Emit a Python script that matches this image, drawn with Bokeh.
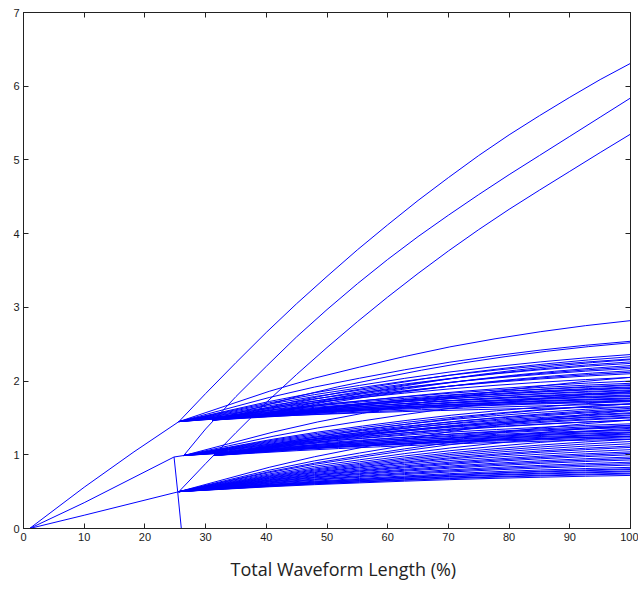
from bokeh.plotting import figure
from bokeh.models import Range1d, LinearAxis, FixedTicker, Title, ColumnDataSource
from bokeh.embed import file_html
from bokeh.resources import INLINE

# ---------------- data ----------------
x_ticks = [0, 10, 20, 30, 40, 50, 60, 70, 80, 90, 100]
y_ticks = [0, 1, 2, 3, 4, 5, 6, 7]

# three initial rising lines from the origin to the three levels
rise_upper_x = [1, 10, 18.2, 25.6]
rise_upper_y = [0, 0.56, 1.04, 1.45]
rise_middle_x = [1, 10, 24.8, 26.4]
rise_middle_y = [0, 0.35, 0.97, 0.99]
rise_lower_x = [1, 10, 25.6]
rise_lower_y = [0, 0.18, 0.50]

# near-vertical drop from the middle level down to zero
drop_x = [24.8, 25.4, 26.0]
drop_y = [0.97, 0.50, 0.0]

# three large curves
big_upper_x = [25.6, 30, 35, 40, 45, 50, 55, 60, 65, 70, 75, 80, 85, 90, 95, 100]
big_upper_y = [1.45, 1.83, 2.25, 2.66, 3.05, 3.42, 3.78, 4.12, 4.45, 4.76,
               5.06, 5.34, 5.60, 5.85, 6.09, 6.31]
big_middle_x = [26.4, 30, 35, 40, 45, 50, 55, 60, 65, 70, 75, 80, 85, 90, 95, 100]
big_middle_y = [0.99, 1.35, 1.79, 2.20, 2.60, 2.97, 3.32, 3.65, 3.96, 4.25,
                4.53, 4.80, 5.06, 5.32, 5.58, 5.84]
big_lower_x = [25.6, 30, 35, 40, 45, 50, 55, 60, 65, 70, 75, 80, 85, 90, 95, 100]
big_lower_y = [0.50, 0.88, 1.30, 1.71, 2.09, 2.455, 2.805, 3.14, 3.46, 3.765,
               4.055, 4.33, 4.59, 4.845, 5.10, 5.35]

# shape of every fan curve: fraction of its total rise reached at a
# fraction of the distance from its origin to x = 100
fan_shape_t = [0, 0.1, 0.2, 0.3, 0.4, 0.5, 0.6, 0.7, 0.8, 0.9, 1.0]
fan_shape_f = [0, 0.15, 0.30, 0.43, 0.54, 0.645, 0.74, 0.82, 0.89, 0.95, 1.0]

# fan origins (x, y) and the values each fan curve reaches at x = 100
fan_origin_x = [25.6, 31.1, 37.5, 26.4, 31.3, 25.6]
fan_origin_y = [1.45, 1.47, 1.51, 0.99, 0.99, 0.50]
fan_end_values = [
    [2.82, 2.54, 2.36, 2.30, 2.24, 2.17, 2.10, 2.05, 1.97, 1.94, 1.90, 1.87,
     1.83, 1.79, 1.76, 1.74],
    [2.52, 2.33, 2.26, 2.19, 2.12, 2.00, 1.92, 1.88, 1.84, 1.80, 1.76, 1.72, 1.69],
    [2.29, 2.21, 2.14, 1.95, 1.91, 1.85, 1.81, 1.77, 1.73, 1.65],
    [2.05, 1.86, 1.73, 1.69, 1.65, 1.61, 1.57, 1.53, 1.51, 1.47, 1.42, 1.38,
     1.34, 1.31, 1.28, 1.25, 1.23],
    [1.69, 1.63, 1.60, 1.56, 1.54, 1.50, 1.47, 1.40, 1.37, 1.33, 1.30, 1.27,
     1.25, 1.21],
    [1.60, 1.47, 1.40, 1.36, 1.30, 1.25, 1.21, 1.18, 1.15, 1.12, 1.10, 1.07,
     1.04, 1.02, 1.00, 0.97, 0.95, 0.93, 0.90, 0.88, 0.86, 0.83, 0.81, 0.80,
     0.78, 0.77, 0.75, 0.74, 0.72],
]

x_label = "Total Waveform Length (%)"

# ---------------- build the line table ----------------
xs, ys = [], []
for lx, ly in [(rise_upper_x, rise_upper_y), (rise_middle_x, rise_middle_y),
               (rise_lower_x, rise_lower_y), (drop_x, drop_y),
               (big_upper_x, big_upper_y), (big_middle_x, big_middle_y),
               (big_lower_x, big_lower_y)]:
    xs.append(lx)
    ys.append(ly)

for ox, oy, ends in zip(fan_origin_x, fan_origin_y, fan_end_values):
    for e in ends:
        xs.append([ox + t * (100 - ox) for t in fan_shape_t])
        ys.append([oy + f * (e - oy) for f in fan_shape_f])

src = ColumnDataSource(dict(xs=xs, ys=ys))

# ---------------- figure ----------------
p = figure(width=638, height=596, output_backend="svg", toolbar_location=None,
           x_range=Range1d(0, 100), y_range=Range1d(0, 7),
           min_border_left=23, min_border_right=8, min_border_top=12,
           min_border_bottom=68, x_axis_location=None, y_axis_location=None)
p.grid.visible = False
p.background_fill_color = "white"
p.border_fill_color = "white"
p.outline_line_color = "#222222"

p.multi_line(xs="xs", ys="ys", source=src, line_color="#0000FF", line_width=1)

tick_font = "Liberation Sans"


def make_axis(ticks, show_labels):
    ax = LinearAxis(ticker=FixedTicker(ticks=ticks))
    ax.axis_line_color = "#222222"
    ax.major_tick_line_color = "#222222"
    ax.major_tick_in = 5
    ax.major_tick_out = 0
    ax.minor_tick_line_color = None
    ax.major_label_text_font = tick_font
    ax.major_label_text_font_size = "11px"
    ax.major_label_text_color = "#1a1a1a"
    ax.major_label_standoff = 4
    if not show_labels:
        ax.major_label_overrides = {t: "" for t in ticks}
        ax.major_label_standoff = 0
    return ax


p.add_layout(make_axis(x_ticks, True), "below")
p.add_layout(make_axis(y_ticks, True), "left")
p.add_layout(make_axis(x_ticks, False), "above")
p.add_layout(make_axis(y_ticks, False), "right")

p.add_layout(Title(text=x_label, align="left", offset=207, standoff=26,
                   vertical_align="top",
                   text_font="Open Sans", text_font_size="18px",
                   text_font_style="normal", text_color="#222222"), "below")

open("out.html", "w").write(file_html(p, INLINE))
